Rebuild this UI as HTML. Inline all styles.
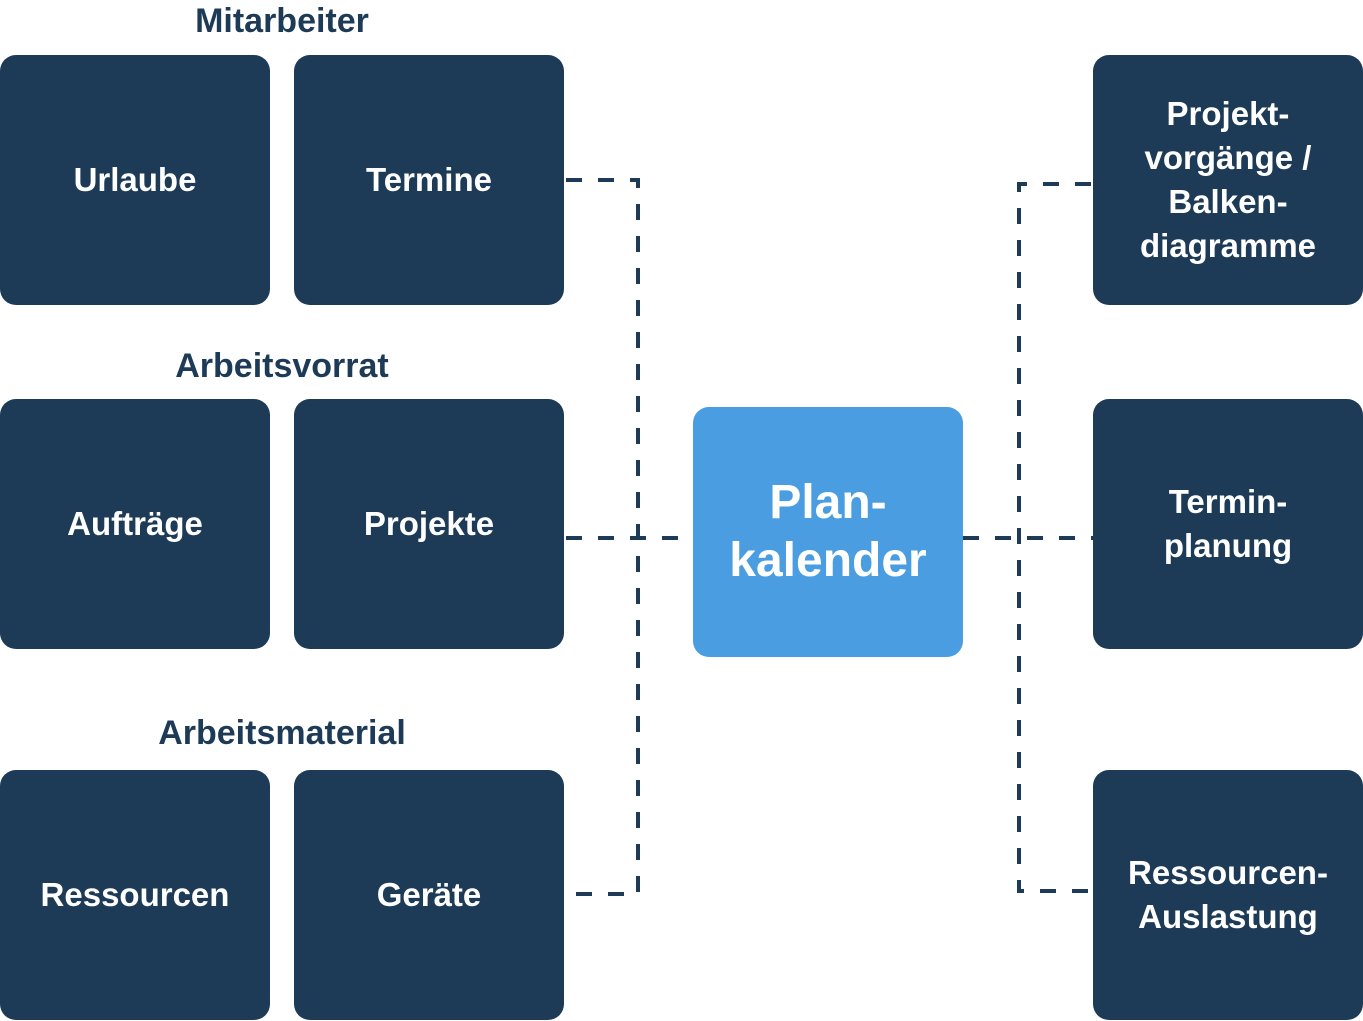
<!DOCTYPE html>
<html><head><meta charset="utf-8"><style>
body{margin:0;width:1363px;height:1021px;background:#fff;position:relative;overflow:hidden;font-family:"Liberation Sans",sans-serif;}
.b{position:absolute;width:270px;height:250px;background:#1d3b57;border-radius:16px;color:#fff;font-weight:bold;font-size:33px;display:flex;align-items:center;justify-content:center;text-align:center;line-height:44px;}
.h{position:absolute;color:#1d3b57;font-weight:bold;font-size:34px;width:564px;text-align:center;}
svg{position:absolute;left:0;top:0;}
</style></head><body>
<svg width="1363" height="1021"><g stroke="#1d3b57" stroke-width="4" fill="none" stroke-dasharray="16 16">
<path d="M566 180 H638 V894 H566"/>
<path d="M566 538 H693"/>
<path d="M963 538 H1093"/>
<path d="M1091 184 H1019 V891 H1091"/>
</g></svg>
<div class="h" style="left:0;top:2px">Mitarbeiter</div>
<div class="h" style="left:0;top:347px">Arbeitsvorrat</div>
<div class="h" style="left:0;top:714px">Arbeitsmaterial</div>
<div class="b" style="left:0;top:55px">Urlaube</div>
<div class="b" style="left:294px;top:55px">Termine</div>
<div class="b" style="left:0;top:399px">Aufträge</div>
<div class="b" style="left:294px;top:399px">Projekte</div>
<div class="b" style="left:0;top:770px">Ressourcen</div>
<div class="b" style="left:294px;top:770px">Geräte</div>
<div class="b" style="left:693px;top:407px;background:#4a9de0;font-size:48px;line-height:58px">Plan-<br>kalender</div>
<div class="b" style="left:1093px;top:55px">Projekt-<br>vorgänge /<br>Balken-<br>diagramme</div>
<div class="b" style="left:1093px;top:399px">Termin-<br>planung</div>
<div class="b" style="left:1093px;top:770px">Ressourcen-<br>Auslastung</div>
</body></html>
